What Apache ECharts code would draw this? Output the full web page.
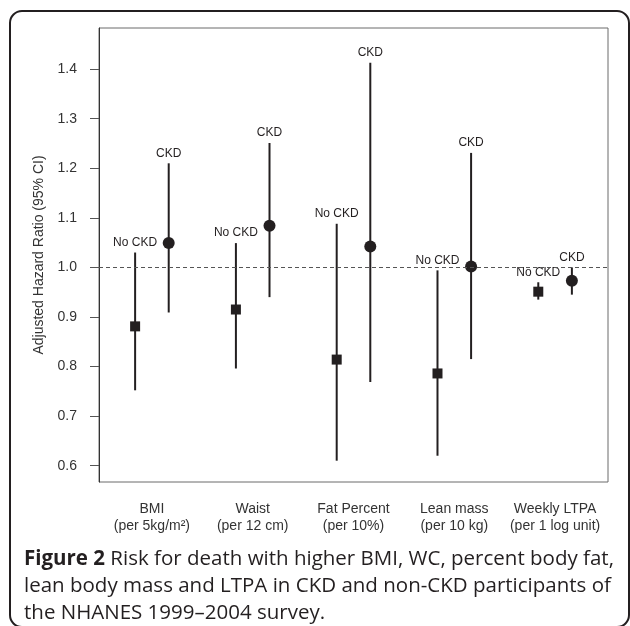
<!DOCTYPE html>
<html>
<head>
<meta charset="utf-8">
<script src="https://cdn.jsdelivr.net/npm/echarts@6/dist/echarts.min.js"></script>
<style>
html,body{margin:0;padding:0;background:#fff;}
#chart{width:630px;height:626px;}
</style>
</head>
<body>
<div id="chart"></div>
<script>
// ---- Data ----
const categories = ['BMI', 'Waist', 'Fat Percent', 'Lean mass', 'Weekly LTPA'];
const categoryUnits = ['(per 5kg/m²)', '(per 12 cm)', '(per 10%)', '(per 10 kg)', '(per 1 log unit)'];
const groupNames = ['No CKD', 'CKD'];
const noCkdHR    = [0.881, 0.915, 0.814, 0.786, 0.951];
const noCkdLower = [0.752, 0.796, 0.610, 0.620, 0.935];
const noCkdUpper = [1.030, 1.049, 1.088, 0.994, 0.970];
const ckdHR      = [1.049, 1.084, 1.042, 1.002, 0.973];
const ckdLower   = [0.909, 0.940, 0.769, 0.815, 0.945];
const ckdUpper   = [1.210, 1.251, 1.413, 1.231, 1.000];
const yTicks = [0.6, 0.7, 0.8, 0.9, 1.0, 1.1, 1.2, 1.3, 1.4];
const referenceHR = 1.0;
const captionBold = 'Figure 2';
const captionLines = [
  ' Risk for death with higher BMI, WC, percent body fat,',
  'lean body mass and LTPA in CKD and non-CKD participants of',
  'the NHANES 1999–2004 survey.'
];

// ---- Layout / style constants ----
const INK = '#231f20';
const OFFSET = 1 / 6;           // horizontal offset of each group inside a category
const FONT = 'Liberation Sans, Arial, sans-serif';

function groupData(hr, lo, hi, sign) {
  return categories.map((c, i) => [i + sign * OFFSET, lo[i], hi[i], hr[i]]);
}
const groups = [
  { name: groupNames[0], data: groupData(noCkdHR, noCkdLower, noCkdUpper, -1), symbol: 'rect', size: 10 },
  { name: groupNames[1], data: groupData(ckdHR, ckdLower, ckdUpper, 1), symbol: 'circle', size: 12 }
];

function ciRenderer(label) {
  return function (params, api) {
    const x = api.value(0);
    const top = api.coord([x, api.value(2)]);
    const bot = api.coord([x, api.value(1)]);
    return {
      type: 'group',
      children: [
        { type: 'line', shape: { x1: top[0], y1: top[1], x2: bot[0], y2: bot[1] },
          style: { stroke: INK, lineWidth: 2 } },
        { type: 'text', x: top[0], y: top[1] - 4,
          style: { text: label, fill: INK, font: '12px ' + FONT, align: 'center', verticalAlign: 'bottom' } }
      ]
    };
  };
}

const series = [];
groups.forEach(g => {
  series.push({
    type: 'custom', name: g.name + ' CI', renderItem: ciRenderer(g.name),
    data: g.data, encode: { x: 0, y: [1, 2] }, z: 2, silent: true
  });
  series.push({
    type: 'scatter', name: g.name, symbol: g.symbol, symbolSize: g.size,
    data: g.data.map(d => [d[0], d[3]]),
    itemStyle: { color: INK, opacity: 1 }, z: 3, silent: true
  });
});
series[0].markLine = {
  silent: true, symbol: 'none', label: { show: false },
  lineStyle: { color: '#555', width: 1, type: [4, 3] },
  data: [{ yAxis: referenceHR }]
};

const chart = echarts.init(document.getElementById('chart'), null, { renderer: 'canvas' });
chart.setOption({
  animation: false,
  backgroundColor: '#fff',
  textStyle: { fontFamily: FONT },
  grid: { left: 99, right: 22, top: 28, bottom: 144, show: true, borderColor: '#6a6a6a', borderWidth: 1 },
  xAxis: {
    type: 'value', min: -0.525, max: 4.525,
    splitLine: { show: false },
    axisLine: { show: false, onZero: false },
    axisTick: { show: false },
    axisLabel: {
      customValues: categories.map((c, i) => i),
      formatter: v => categories[Math.round(v)] + '\n' + categoryUnits[Math.round(v)],
      color: '#333', fontSize: 14, lineHeight: 17, margin: 19, fontFamily: FONT
    }
  },
  yAxis: {
    type: 'value', min: 0.567, max: 1.483,
    name: 'Adjusted Hazard Ratio (95% CI)', nameLocation: 'middle', nameGap: 52,
    nameTextStyle: { color: '#333', fontSize: 14, fontFamily: FONT },
    splitLine: { show: false },
    axisLine: { show: true, onZero: false, lineStyle: { color: '#333', width: 1 } },
    axisTick: { show: true, customValues: yTicks, length: 9, lineStyle: { color: '#555' } },
    axisLabel: { customValues: yTicks, formatter: v => v.toFixed(1), color: '#333', fontSize: 14, margin: 22, fontFamily: FONT }
  },
  graphic: [
    { type: 'rect', shape: { x: 10, y: 11, width: 619, height: 616, r: 12 },
      style: { fill: 'none', stroke: INK, lineWidth: 2 }, silent: true },
    { type: 'text', left: 24, top: 546,
      style: {
        text: '{b|' + captionBold + '}' + captionLines[0] + '\n' + captionLines[1] + '\n' + captionLines[2],
        font: '20.5px Open Sans', fill: INK, lineHeight: 27,
        rich: { b: { fontWeight: 'bold', fontSize: 20.5, fontFamily: 'Open Sans', fill: INK, lineHeight: 27 } }
      }, silent: true }
  ],
  series: series
});
</script>
</body>
</html>
